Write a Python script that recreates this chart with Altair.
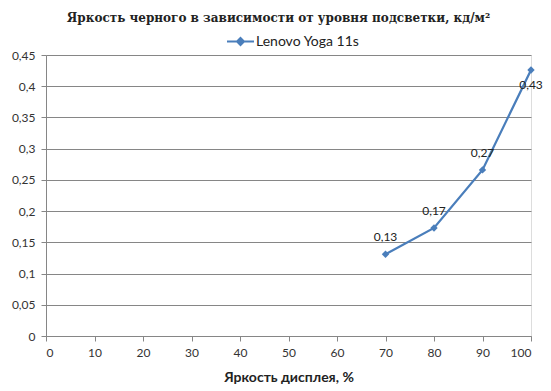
import altair as alt
import pandas as pd

brightness = [70, 80, 90, 100]
black_level = [0.131, 0.173, 0.266, 0.426]
series_name = "Lenovo Yoga 11s"
x_ticks = [0, 10, 20, 30, 40, 50, 60, 70, 80, 90, 100]
y_ticks = [0, 0.05, 0.1, 0.15, 0.2, 0.25, 0.3, 0.35, 0.4, 0.45]

df = pd.DataFrame({"x": brightness, "y": black_level, "series": [series_name] * len(brightness)})

BLUE = "#4a7ebb"
GRID = "#868686"
FONT = "Lato"

base = alt.Chart(df).encode(
    x=alt.X("x:Q", scale=alt.Scale(domain=[0, 100], nice=False),
            axis=alt.Axis(values=x_ticks, title="Яркость дисплея, %", grid=False,
                          domainColor=GRID, tickColor=GRID, tickSize=5,
                          labelFont=FONT, labelFontSize=12, labelColor="#333333",
                          labelPadding=6,
                          titleFont=FONT, titleFontSize=14, titleFontWeight="bold",
                          titleColor="#222222", titlePadding=12)),
    y=alt.Y("y:Q", scale=alt.Scale(domain=[0, 0.45], nice=False),
            axis=alt.Axis(values=y_ticks, title=None, format=".2~f",
                          labelExpr="replace(datum.label, '.', ',')",
                          grid=True, gridColor=GRID, gridWidth=1,
                          domainColor=GRID, tickColor=GRID, tickSize=5,
                          labelFont=FONT, labelFontSize=12, labelColor="#333333",
                          labelPadding=6)),
)

line = base.mark_line(strokeWidth=2.25).encode(
    color=alt.Color("series:N", scale=alt.Scale(range=[BLUE]),
                    legend=alt.Legend(title=None, orient="none", legendX=180, legendY=-28,
                                      symbolType="M-1,0L1,0M0,-0.26L0.26,0L0,0.26L-0.26,0Z",
                                      symbolSize=729, symbolStrokeWidth=2,
                                      symbolFillColor=BLUE, symbolStrokeColor=BLUE,
                                      labelFont=FONT, labelFontSize=14, labelColor="#222222",
                                      labelOffset=1))
)
points = base.mark_point(shape="diamond", filled=True, size=55, color=BLUE, opacity=1)

label_calc = "replace(format(datum.y, '.2f'), '.', ',')"
labels_above = base.transform_filter("datum.x < 100").transform_calculate(
    lbl=label_calc).mark_text(dy=-17, font=FONT, fontSize=12, color="#222222").encode(text="lbl:N")
labels_below = base.transform_filter("datum.x >= 100").transform_calculate(
    lbl=label_calc).mark_text(dy=15, font=FONT, fontSize=12, color="#222222").encode(text="lbl:N")

chart = alt.layer(line, points, labels_above, labels_below).properties(
    width=485, height=281,
    autosize=alt.AutoSizeParams(type="none"),
    padding={"left": 38, "top": 47, "right": 12, "bottom": 50},
    title=alt.TitleParams("Яркость черного в зависимости от уровня подсветки, кд/м²",
                          font="DejaVu Serif", fontSize=12, fontWeight="bold",
                          color="#222222", anchor="middle", offset=2, dx=-10),
).configure_view(stroke=None).configure(background="white")

chart.save("out.html", embed_options={"renderer": "svg", "actions": False})
